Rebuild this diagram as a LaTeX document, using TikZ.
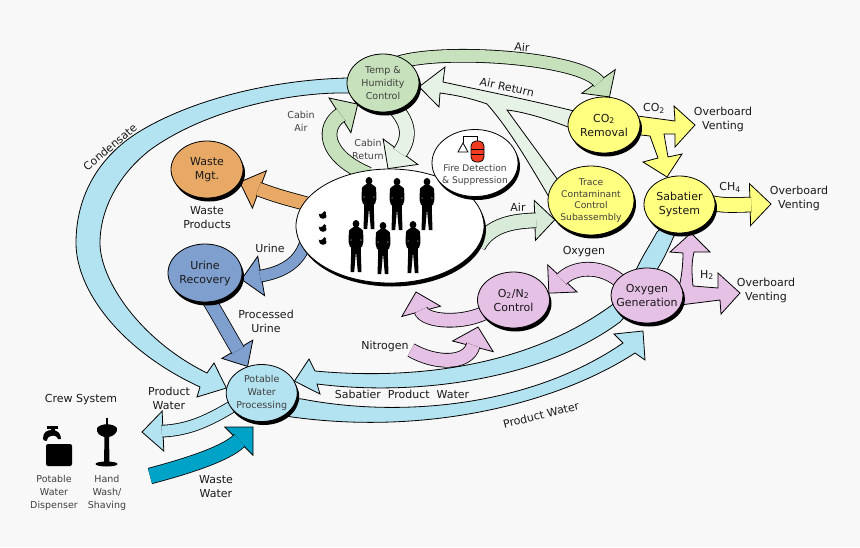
\documentclass[tikz,border=0pt]{standalone}
\usepackage{fontspec}
\setmainfont{DejaVu Sans}
\usetikzlibrary{calc,positioning,shapes.geometric,shadows}

\definecolor{backfill}{HTML}{F8F8F8}
\definecolor{waterblue}{HTML}{B3E3F0}
\definecolor{airgreen}{HTML}{C6E1BC}
\definecolor{cabingreen}{HTML}{D8EAD8}
\definecolor{returngreen}{HTML}{E6F2E6}
\definecolor{ventyellow}{HTML}{FFFF80}
\definecolor{wasteorange}{HTML}{E8A966}
\definecolor{urineblue}{HTML}{7F9FCF}
\definecolor{oxypink}{HTML}{E6C1E6}
\definecolor{wasteteal}{HTML}{00A3C8}
\definecolor{tankred}{HTML}{F03C20}

\pgfdeclarelayer{backdrop}
\pgfdeclarelayer{flows}

\tikzset{
    bignode/.style={font=\fontsize{11}{14}\selectfont, text=black!90, align=center},
    thinnode/.style={font=\fontsize{9.5}{13}\selectfont, text=black!75, align=center},
    bigtext/.style={bignode},
    thintext/.style={thinnode},
    module/.style={
        ellipse, draw=black, line width=0.8pt, inner sep=-12pt,
        drop shadow={shadow xshift=2pt, shadow yshift=-3.5pt, fill=black, opacity=1}
    },
    flowedge/.style={draw=black, line width=0.8pt, line join=miter},
    flowshaft/.style={line width=0.8pt, shorten <=-8pt},
    person/.pic={
        \fill (0,3.8) ellipse (3.4 and 3.8);
        \fill (-1.6,6.5) -- (-5.5,9) .. controls (-7,10) and (-7.2,11) .. (-7.2,13)
            -- (-7.4,22) -- (-6,27) -- (-4.8,27) -- (-4.8,31) -- (-5.5,52) -- (-1.8,52)
            -- (0,31) -- (1.8,52) -- (5.5,52) -- (4.8,31) -- (4.8,27) -- (6,27) -- (7.4,22)
            -- (7.2,13) .. controls (7.2,11) and (7,10) .. (5.5,9) -- (1.6,6.5) -- cycle;
        \fill[white] (-4.9,20) circle (0.6) (4.9,20) circle (0.6);
    },
    duck/.pic={
        \fill (0,0) ellipse (3.6 and 2.8);
        \fill (1.4,-3) circle (1.9);
        \fill (-2,-1) -- (-4.4,-2.6) -- (-3.4,0.5) -- cycle;
    }
}

% fill, shaft width, head half width, head length, path up to the last control, last control, tip
\newcommand{\flowarrow}[8][]{%
    \coordinate (flowbase) at ($(#8)!#5!(#7)$);
    \coordinate (flowend) at ($(#8)!#5-1.2pt!(#7)$);
    \coordinate (flowleft) at ($(flowbase)!#4!90:(#8)$);
    \coordinate (flowright) at ($(flowbase)!#4!-90:(#8)$);
    \draw[flowedge, fill=#2] (#8) -- (flowleft) -- (flowright) -- cycle;
    \draw[flowshaft, double=#2, double distance=#3, #1] #6 (#7) .. (flowend);
}

\begin{document}
\begin{tikzpicture}[x=1pt, y=-1pt]
    \pgfsetlayers{backdrop,flows,main}

    \begin{pgfonlayer}{backdrop}
        \fill[backfill] (0,0) rectangle (860,547);
    \end{pgfonlayer}


    % modules
    \node[module, bignode, fill=white, minimum width=188pt, minimum height=114pt] (crew) at (390,226) {};
    \node[module, fill=white, minimum width=86pt, minimum height=67pt] (fire) at (475,163) {};
    \node[module, thinnode, fill=airgreen, minimum width=72pt, minimum height=58pt] (tempctl) at (383,83)
        {Temp \&\\Humidity\\Control};
    \node[module, bignode, fill=ventyellow, minimum width=72pt, minimum height=56pt] (co2rem) at (604,125)
        {CO\textsubscript{2}\\Removal};
    \node[module, thinnode, fill=ventyellow, minimum width=86pt, minimum height=69pt,
        font=\fontsize{9.2}{11.4}\selectfont] (trace) at (591,200.5)
        {Trace\\Contaminant\\Control\\Subassembly};
    \node[module, bignode, fill=ventyellow, minimum width=71pt, minimum height=57pt] (sabatier) at (679.5,204.5)
        {Sabatier\\System};
    \node[module, bignode, fill=oxypink, minimum width=72pt, minimum height=55pt] (o2gen) at (647,295.5)
        {Oxygen\\Generation};
    \node[module, bignode, fill=oxypink, minimum width=72pt, minimum height=56pt] (o2n2) at (513.5,300)
        {O\textsubscript{2}/N\textsubscript{2}\\Control};
    \node[module, bignode, fill=wasteorange, minimum width=72pt, minimum height=57pt] (wastemgt) at (207,169.5)
        {Waste\\Mgt.};
    \node[module, bignode, fill=urineblue, minimum width=74pt, minimum height=58pt] (urinerec) at (205,273)
        {Urine\\Recovery};
    \node[module, thinnode, fill=waterblue, minimum width=71pt, minimum height=57pt] (potable) at (261.7,393)
        {Potable\\Water\\Processing};


    % free arrow ends
    \coordinate (ventco2) at (695,125);
    \coordinate (ventch4) at (771,204);
    \coordinate (venth2) at (740,293);
    \coordinate (dispenser) at (142,432);
    \coordinate (wastetail) at (150,476);
    \coordinate (nitrotail) at (411,350);
    \coordinate (nitrotip) at (478,327);
    \coordinate (crewtip) at (416,292);
    \coordinate (o2gentip) at (643,331);
    \coordinate (potabletip) at (253,427);


    \begin{pgfonlayer}{flows}
        % condensate
        \draw[flowedge, fill=waterblue]
            (360,78) -- (347,78) .. controls (270,80) and (190,100) .. (137,133)
            .. controls (95,160) and (76,200) .. (76,243)
            .. controls (76,290) and (120,350) .. (200,387)
            -- (197,397) -- (potable.172) -- (214,363) -- (207,373)
            .. controls (140,340) and (100,280) .. (100,243)
            .. controls (100,210) and (118,175) .. (150,150)
            .. controls (205,110) and (290,92) .. (347,93) -- (360,93) -- cycle;

        % air
        \flowarrow{airgreen}{12pt}{20.5pt}{19pt}
            {(tempctl.45) .. controls (445,48) and}{582,58}{co2rem.79}

        % air return
        \draw[flowedge, fill=returngreen]
            (tempctl.-6) -- (445,67) -- (443,82)
            .. controls (480,90) and (530,100) .. (578,112) -- (578,128) -- (568,127)
            .. controls (550,120) and (525,112) .. (507,110)
            .. controls (525,135) and (540,155) .. (560,183) -- (552,197) -- (549,197)
            .. controls (530,165) and (510,130) .. (487,104)
            .. controls (470,98) and (455,95) .. (440,93) -- (439,107) -- cycle;

        % cabin air and return
        \flowarrow{airgreen}{14pt}{20.5pt}{21pt}
            {(crew.118) .. controls (322,155) and}{323,126}{tempctl.220}
        \flowarrow{returngreen}{14pt}{21.5pt}{21pt}
            {(tempctl.-62) .. controls (408,120) and}{412,136}{crew.92}
        \flowarrow{cabingreen}{14pt}{20pt}{20pt}
            {(crew.-8) .. controls (490,224) and}{515,221}{trace.208}

        % waste and urine
        \flowarrow{wasteorange}{13pt}{20pt}{21pt}
            {(crew.165) .. controls (295,200) and}{285,199}{wastemgt.-21}
        \flowarrow{urineblue}{11pt}{20pt}{20pt}
            {(crew.195) .. controls (300,262) and}{284,272}{urinerec.-10}
        \flowarrow{urineblue}{13pt}{18pt}{20pt}
            {(urinerec.-80) .. controls (218,315) and}{226,330}{potable.118}

        % water
        \draw[flowedge, fill=waterblue]
            (potable.20) -- (309,359) -- (315,371) .. controls (400,379) and (520,372) .. (612,305)
            -- (637,268) .. controls (643,255) and (650,245) .. (657,232) -- (665,225) -- (680,225)
            -- (673,238) .. controls (668,250) and (663,260) .. (658,268) -- (640,300)
            -- (620,322) .. controls (545,378) and (420,397) .. (317,384) -- (320,394) -- cycle;
        \draw[flowedge, fill=waterblue]
            (288,398) -- (302,399) .. controls (400,418) and (530,407) .. (623,343)
            -- (614,334) -- (o2gentip) -- (645,360) -- (635,353)
            .. controls (560,402) and (430,436) .. (292,417) -- (285,416) -- cycle;
        \flowarrow{waterblue}{11pt}{20pt}{21pt}
            {(potable.205) .. controls (210,420) and}{190,430}{dispenser}
        \flowarrow[shorten <=0pt]{wasteteal}{15pt}{20pt}{20pt}
            {(wastetail) .. controls (180,468) and}{225,455}{potabletip}

        % oxygen and nitrogen
        \flowarrow{oxypink}{13pt}{20pt}{20pt}
            {(o2gen.150) .. controls (600,262) and}{572,268}{o2n2.11}
        \flowarrow{oxypink}{13pt}{20pt}{20pt}
            {(o2n2.205) .. controls (465,325) and}{424,322}{crewtip}
        \flowarrow[shorten <=0pt]{oxypink}{13pt}{21pt}{20pt}
            {(nitrotail) .. controls (435,364) and}{468,365}{nitrotip}

        % overboard
        \draw[flowedge, fill=ventyellow]
            (630,115) -- (675,121) -- (674,106) -- (ventco2) -- (675,147) -- (675,134)
            -- (664,134) -- (668,157) -- (682,154) -- (667,177) -- (643,162)
            -- (658,158) -- (650,136) -- (632,134) -- cycle;
        \flowarrow{ventyellow}{14pt}{21pt}{21pt}
            {(sabatier.east) .. controls (720,206) and}{735,205}{ventch4}
        \draw[flowedge, fill=oxypink]
            (691,233) -- (710,252) -- (694,252) .. controls (691,265) and (692,275) .. (693,286)
            -- (718,288) -- (718,273) -- (venth2) -- (721,314) -- (720,300) -- (680,305) -- (672,292)
            -- (680,283) .. controls (682,273) and (683,263) .. (683,253) -- (670,252) -- cycle;
    \end{pgfonlayer}


    % labels
    \node[bigtext, rotate=-5] (airtop) at (522,47) {Air};
    \node[bigtext, rotate=-12] (airreturn) at (507,87) {Air Return};
    \node[thintext] (cabinair) at (301,121) {Cabin\\Air};
    \node[thintext] (cabinreturn) at (368,149) {Cabin\\Return};
    \node[bigtext] (aircrew) at (518,207) {Air};
    \node[bigtext] (co2label) at (654,108) {CO\textsubscript{2}};
    \node[bigtext] (ch4label) at (730,187) {CH\textsubscript{4}};
    \node[bigtext] (h2label) at (707,275) {H\textsubscript{2}};
    \node[bigtext] (ventone) at (723,119) {Overboard\\Venting};
    \node[bigtext] (venttwo) at (799,198) {Overboard\\Venting};
    \node[bigtext] (ventthree) at (766,290) {Overboard\\Venting};
    \node[bigtext] (oxygen) at (584,252) {Oxygen};
    \node[bigtext] (nitrogen) at (385,346) {Nitrogen};
    \node[bigtext] (sabwater) at (402,394) {Sabatier~ Product~ Water};
    \node[bigtext, rotate=14] (prodwater) at (541,415) {Product Water};
    \node[bigtext, rotate=40] (condensate) at (110,147) {Condensate};
    \node[bigtext] (wasteprod) at (207,218) {Waste\\Products};
    \node[bigtext] (urine) at (270,248) {Urine};
    \node[bigtext] (procurine) at (266,321) {Processed\\Urine};
    \node[bigtext] (prodleft) at (169,398) {Product\\Water};
    \node[bigtext] (wastewater) at (216,487) {Waste\\Water};
    \node[bigtext] (crewsys) at (81,400) {Crew System};
    \node[thintext] (dispenserlabel) at (54,493) {Potable\\Water\\Dispenser};
    \node[thintext] (washlabel) at (107,493) {Hand\\Wash/\\Shaving};


    % fire system
    \node[thinnode, font=\fontsize{9.1}{11.5}\selectfont] (firetext) at (475,175) {Fire Detection\\\& Suppression};
    \draw[line width=0.8pt] (463,143) -- (468,152) -- (458,152) -- cycle;
    \draw[line width=0.8pt] (463,143) -- (463,136) -- (477,136) -- (477,142);
    \draw[line width=0.8pt, fill=tankred, rounded corners=5pt] (471,141) rectangle (484,162);
    \draw[line width=0.8pt] (471,149) -- (484,149) (471,154) -- (484,154);


    % crew
    \pic at (369,177) {person};
    \pic at (397,178) {person};
    \pic at (427,178) {person};
    \pic at (356,220) {person};
    \pic at (383,222) {person};
    \pic at (413,221) {person};
    \pic at (323,216) {duck};
    \pic at (323,229) {duck};
    \pic at (323,242) {duck};


    % dispenser
    \fill[rounded corners=2pt] (46,444) rectangle (72,466);
    \fill (47,425.5) rectangle (58,428.5);
    \fill (50.5,428) rectangle (54.5,432);
    \fill (43,438.5) .. controls (43,432) and (47,430) .. (52,430)
        .. controls (57,430) and (61,433) .. (61,439) -- (58,439)
        .. controls (57,436) and (54,435) .. (51,436) .. controls (49,436) and (47,438) .. (46.5,441)
        .. controls (44,441) and (43,440) .. (43,438.5) -- cycle;

    % wash basin
    \fill (105.5,418) rectangle (107.5,426);
    \fill (97,428) .. controls (101,423) and (113,423) .. (117,428)
        .. controls (118,433) and (113,436) .. (109,437)
        -- (109.5,462) -- (104,462) -- (104.5,437)
        .. controls (100,436) and (96,433) .. (97,428) -- cycle;
    \fill (106.5,464) ellipse (11 and 2.5);

\end{tikzpicture}
\end{document}
